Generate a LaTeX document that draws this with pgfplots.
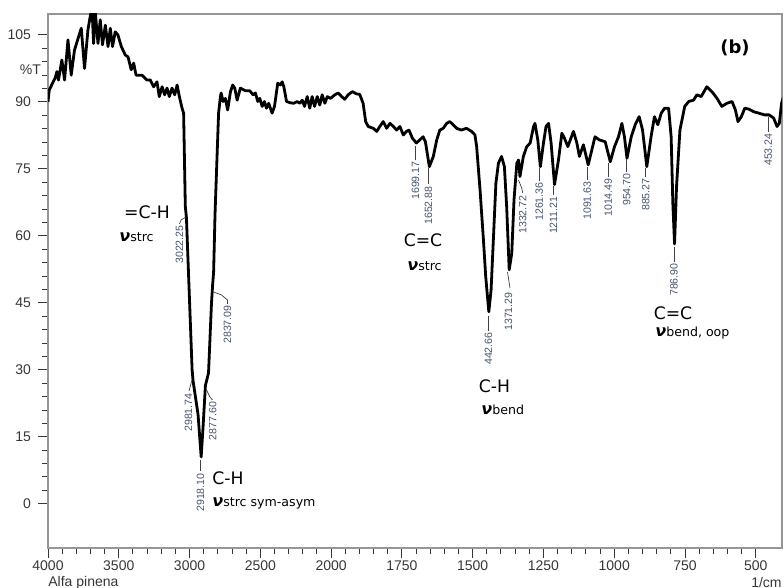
\documentclass[border=0pt]{standalone}
\usepackage{fontspec}
\setmainfont{Liberation Sans}
\newfontfamily\dvs{DejaVu Sans}
\usepackage{pgfplots}
\usepackage{pgfplotstable}
\pgfplotsset{compat=1.18}
\definecolor{peakc}{RGB}{70,82,110}
\definecolor{axgray}{RGB}{150,150,150}
\definecolor{tickc}{RGB}{55,55,55}
\newcommand\pk{\fontsize{5.3}{6}\selectfont}
\newcommand\nulab[1]{{\dvs\bfseries\itshape\fontsize{8}{9}\selectfont ν}{\dvs\fontsize{6.3}{7}\selectfont #1}}

\pgfplotstableread{
wn T
4000 90.0
3991 92.7
3949 95.4
3937 96.8
3926 94.9
3902 99.4
3883 94.9
3859 103.9
3836 96.0
3813 101.6
3784 104.6
3765 106.5
3742 97.5
3718 106.1
3702 109.1
3689 111
3678 103.1
3666 110.2
3647 103.1
3631 108.4
3615 102.8
3595 107.2
3576 102.4
3560 106.5
3544 102.4
3525 105.7
3506 105.0
3482 102.4
3454 100.5
3435 100.1
3412 97.2
3395 98.7
3378 96.0
3336 96.0
3301 94.9
3277 94.9
3254 93.4
3230 94.5
3214 91.2
3194 93.4
3176 91.6
3159 93.1
3143 91.2
3124 93.1
3105 91.6
3088 93.8
3072 91.2
3053 88.6
3042 87.5
3030 66.6
3022 64.0
2982 30.0
2975 27.5
2940 20.0
2918 10.5
2905 17.0
2888 26.5
2866 29.3
2845 45.0
2837 49.0
2830 52.0
2820 65.0
2795 87.5
2782 91.2
2777 92.0
2763 90.1
2747 90.8
2731 88.2
2711 92.3
2695 93.8
2681 93.1
2664 90.4
2641 93.1
2605 92.5
2575 92.5
2551 91.6
2535 92.0
2518 90.1
2504 90.8
2487 89.0
2471 90.1
2457 88.6
2441 89.7
2417 87.5
2400 89.0
2377 94.2
2358 93.8
2346 94.5
2334 93.4
2315 90.1
2287 89.8
2264 89.7
2240 90.1
2221 89.7
2204 90.4
2188 89.0
2169 91.2
2151 88.6
2134 91.2
2117 89.0
2098 91.2
2080 89.3
2063 91.6
2044 89.7
2027 91.2
2004 90.8
1987 91.6
1975 92.0
1963 91.2
1952 90.6
1940 91.6
1925 92.3
1910 91.8
1899 91.7
1887 89.7
1878 85.6
1869 84.5
1851 84.1
1839 83.4
1828 84.5
1816 85.6
1804 84.1
1792 85.2
1780 84.5
1769 83.7
1757 84.5
1745 82.6
1734 83.4
1725 83.7
1713 81.9
1699 80.8
1687 81.5
1675 82.2
1667 81.1
1653 75.5
1639 77.8
1627 81.5
1616 83.7
1604 84.1
1592 85.2
1581 85.6
1569 84.9
1557 84.1
1540 83.7
1522 84.1
1504 83.4
1492 82.6
1486 80.0
1474 70.3
1462 59.1
1454 50.9
1443 43.0
1435 47.9
1427 59.1
1418 71.8
1409 76.3
1398 77.8
1388 75.5
1380 66.6
1371 52.4
1362 56.1
1354 68.1
1344 76.3
1338 77.0
1333 73.3
1321 77.8
1309 80.0
1297 80.8
1285 84.5
1280 85.2
1270 81.5
1261 75.5
1250 80.8
1241 84.5
1232 85.2
1223 80.8
1211 71.5
1197 77.0
1185 83.0
1176 81.9
1164 80.0
1144 83.4
1132 80.8
1123 77.8
1109 80.4
1092 75.9
1079 79.3
1068 82.2
1053 81.5
1032 81.1
1014 76.6
999 80.0
985 82.2
973 85.2
964 82.2
955 77.4
940 82.2
926 84.9
912 86.7
900 83.7
885 75.5
870 82.2
858 86.7
846 84.9
834 87.5
822 88.6
808 88.6
799 82.2
793 67.3
787 58.2
780 71.0
768 83.7
751 89.0
737 90.1
720 90.4
708 91.6
693 91.2
673 93.4
655 92.3
637 90.8
620 89.0
602 89.7
584 90.1
572 88.2
563 85.6
551 86.7
539 88.6
525 88.4
507 87.8
490 87.5
469 87.1
453 87.1
437 86.4
425 84.5
417 85.2
409 89.7
403 91.0
}\spectrum

\begin{document}
\begin{tikzpicture}
\begin{axis}[
  at={(0,0)}, anchor=south west, scale only axis,
  width=367pt, height=267pt,
  xmin=0, xmax=10.37, ymin=-9.9, ymax=109.7,
  axis line style={axgray, line width=0.6pt},
  xtick={0,1,2,3,4,5,6,7,8,9,10},
  xticklabels={4000,3500,3000,2500,2000,1750,1500,1250,1000,750,500},
  minor x tick num=4,
  ytick={0,15,30,45,60,75,90,105},
  minor y tick num=4,
  extra y ticks={97.3}, extra y tick labels={\%T},
  extra y tick style={major tick length=0pt},
  tick align=outside,
  xtick pos=bottom, ytick pos=left,
  major tick length=5pt, minor tick length=3pt,
  tick style={tickc, line width=0.5pt},
  tick label style={font=\fontsize{7}{8}\selectfont, text=tickc},
  x tick label style={inner sep=1pt},
  /pgf/number format/assume math mode=true,
]
\addplot[black, line width=1.4pt, line join=round, mark=none]
  table[x expr={\thisrow{wn}>=2000 ? (4000-\thisrow{wn})/500 : 4+(2000-\thisrow{wn})/250}, y=T]{\spectrum};
\end{axis}
\begin{scope}[x=0.5pt,y=-0.5pt,shift={(-24pt,274pt)}]
  \tikzset{ld/.style={line width=0.35pt, black!75}, pl/.style={rotate=90, anchor=east, inner sep=0pt, text=peakc, font=\pk}}
  % peak labels
  \draw[ld] (186,217) -- (181,220) -- (179.5,224);
  \node[pl] at (179.5,225) {3022.25};
  \draw[ld] (213.5,292) -- (221.5,295) -- (227.5,300) -- (227.5,304);
  \node[pl] at (227.5,305) {2837.09};
  \draw[ld] (192,380) -- (189,391);
  \node[pl] at (188.5,393) {2981.74};
  \draw[ld] (206,389) -- (210,397) -- (212.5,400);
  \node[pl] at (212.7,401.5) {2877.60};
  \draw[ld] (200.7,460) -- (200.7,471);
  \node[pl] at (200.5,473) {2918.10};
  \draw[ld] (415.5,146) -- (415.5,160);
  \node[pl] at (415.5,161) {1699.17};
  \draw[ld] (428.5,168) -- (428.5,184);
  \node[pl] at (428.5,186) {1652.88};
  \draw[ld] (488.5,316) -- (488.5,331);
  \node[pl] at (488.5,332) {442.66};
  \draw[ld] (507.5,272) -- (510,288);
  \node[pl] at (508.5,292) {1371.29};
  \draw[ld] (518.5,180) -- (521.7,188) -- (522.7,193);
  \node[pl] at (522.7,195) {1332.72};
  \draw[ld] (539.3,168) -- (539.3,181);
  \node[pl] at (539.3,182) {1261.36};
  \draw[ld] (553.3,186) -- (553.3,195);
  \node[pl] at (553.3,196) {1211.21};
  \draw[ld] (587.3,167) -- (587.3,180);
  \node[pl] at (587.3,181) {1091.63};
  \draw[ld] (608.3,163) -- (608.3,177);
  \node[pl] at (608.3,178) {1014.49};
  \draw[ld] (626.7,159) -- (626.7,172);
  \node[pl] at (626.7,173) {954.70};
  \draw[ld] (645.7,168) -- (645.7,177);
  \node[pl] at (645.7,178) {885.27};
  \draw[ld] (674,247) -- (674,262);
  \node[pl] at (674,263) {786.90};
  \draw[ld] (768.3,117) -- (768.3,132);
  \node[pl] at (768.3,133) {453.24};
  % assignments
  \node[font=\dvs\fontsize{8.6}{9}\selectfont, inner sep=0pt] at (147,212) {=C-H};
  \node[anchor=west, inner sep=0pt] at (119,237) {\nulab{strc}};
  \node[font=\dvs\fontsize{8.6}{9}\selectfont, inner sep=0pt] at (423,240) {C=C};
  \node[anchor=west, inner sep=0pt] at (407,266) {\nulab{strc}};
  \node[font=\dvs\fontsize{8.6}{9}\selectfont, inner sep=0pt, anchor=west] at (212,478) {C-H};
  \node[anchor=west, inner sep=0pt] at (212,503) {\nulab{strc sym-asym}};
  \node[font=\dvs\fontsize{8.6}{9}\selectfont, inner sep=0pt] at (494.5,386) {C-H};
  \node[anchor=west, inner sep=0pt] at (481,410) {\nulab{bend}};
  \node[font=\dvs\fontsize{8.6}{9}\selectfont, inner sep=0pt] at (673,313) {C=C};
  \node[anchor=west, inner sep=0pt] at (655,333) {\nulab{bend, oop}};
  \node[font=\dvs\bfseries\fontsize{9}{10}\selectfont, inner sep=0pt] at (735,48) {(b)};
  % bottom captions
  \node[anchor=west, inner sep=0pt, text=tickc, font=\fontsize{7}{8}\selectfont] at (48,583) {Alfa pinena};
  \node[anchor=east, inner sep=0pt, text=tickc, font=\fontsize{7}{8}\selectfont] at (782,583) {1/cm};
\end{scope}
\pgfresetboundingbox
\path (-24pt,-20pt) rectangle (368pt,274pt);
\end{tikzpicture}
\end{document}
